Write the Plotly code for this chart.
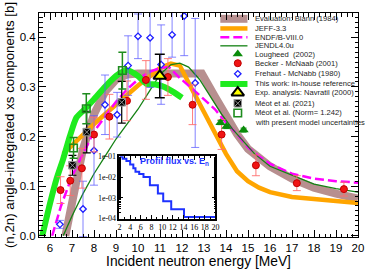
import plotly.graph_objects as go

# ---------------- data ----------------
blann_x = [6.7, 7.0, 7.5, 8.0, 8.5, 9.0, 9.5, 10.0, 11.0, 12.0, 12.9, 13.5, 14.0, 14.5, 15.0, 15.5, 16.0, 17.0, 18.0, 19.0, 20.0]
blann_y = [0.0, 0.07, 0.175, 0.245, 0.29, 0.315, 0.325, 0.327, 0.327, 0.327, 0.327, 0.28, 0.24, 0.205, 0.175, 0.155, 0.14, 0.115, 0.097, 0.085, 0.075]

jeff_x = [6.6, 7.0, 7.5, 8.0, 8.5, 9.0, 9.5, 10.0, 10.5, 11.0, 11.5, 11.9, 12.4, 13.0, 13.5, 14.0, 14.5, 15.0, 15.5, 16.0, 17.0, 18.0, 19.0, 20.0]
jeff_y = [0.165, 0.183, 0.205, 0.225, 0.245, 0.265, 0.285, 0.303, 0.32, 0.338, 0.347, 0.343, 0.30, 0.25, 0.21, 0.165, 0.13, 0.11, 0.097, 0.088, 0.078, 0.073, 0.07, 0.066]

endf_x = [6.1, 6.5, 7.0, 7.5, 8.0, 8.5, 9.0, 9.5, 10.0, 10.5, 11.0, 11.4, 11.9, 12.5, 13.0, 13.5, 14.0, 14.5, 15.0, 15.5, 16.0, 17.0, 18.0, 19.0, 20.0]
endf_y = [0.0, 0.06, 0.12, 0.165, 0.21, 0.24, 0.27, 0.295, 0.315, 0.33, 0.338, 0.34, 0.318, 0.295, 0.275, 0.255, 0.228, 0.205, 0.178, 0.16, 0.145, 0.125, 0.115, 0.11, 0.107]

jendl_x = [6.6, 7.0, 7.5, 8.0, 8.5, 9.0, 9.5, 10.0, 10.5, 11.0, 11.5, 11.9, 12.3, 12.8, 13.3, 13.8, 14.3, 14.8, 15.3, 16.0, 17.0, 18.0, 19.0, 20.0]
jendl_y = [0.0, 0.04, 0.085, 0.125, 0.16, 0.195, 0.225, 0.255, 0.29, 0.325, 0.345, 0.348, 0.34, 0.315, 0.28, 0.245, 0.215, 0.19, 0.165, 0.14, 0.122, 0.104, 0.095, 0.088]

work_x = [5.65, 6.0, 6.3, 6.6, 6.9, 7.2, 7.6, 8.0, 8.5, 9.0, 9.5, 10.0, 10.4, 10.8, 11.2, 11.6, 12.0]
work_y = [0.0, 0.065, 0.115, 0.155, 0.2, 0.238, 0.256, 0.275, 0.3, 0.322, 0.334, 0.322, 0.306, 0.305, 0.3, 0.29, 0.278]

lough_x = [13.75, 14.02, 14.8]
lough_y = [0.228, 0.22, 0.213]
lough_e = [0.004, 0.004, 0.004]

becker_x = [6.48, 6.92, 7.45, 8.0, 8.7, 9.5, 10.36, 11.36, 12.48, 13.8, 15.36, 17.22, 19.36]
becker_y = [0.092, 0.111, 0.136, 0.204, 0.24, 0.272, 0.314, 0.32, 0.264, 0.204, 0.142, 0.106, 0.094]
becker_e = [0.027, 0.03, 0.04, 0.035, 0.045, 0.04, 0.039, 0.037, 0.04, 0.03, 0.021, 0.015, 0.014]

freh_x = [6.45, 7.5, 8.0, 8.5, 9.05, 9.55, 10.0, 10.55, 11.05, 11.55, 12.1, 12.6]
freh_y = [0.023, 0.054, 0.172, 0.264, 0.244, 0.343, 0.402, 0.399, 0.345, 0.405, 0.443, 0.308]
freh_e = [0.008, 0.056, 0.07, 0.06, 0.045, 0.06, 0.045, 0.1, 0.08, 0.045, 0.08, 0.13]

nav_x = [10.99]
nav_y = [0.322]
nav_e = [0.044]

meot_x = [7.02, 7.67, 9.26]
meot_y = [0.142, 0.209, 0.269]
meot_e = [0.02, 0.042, 0.042]

meotn_x = [7.07, 7.65, 9.29]
meotn_y = [0.177, 0.256, 0.333]
meotn_e = [0.021, 0.03, 0.037]

flux_e = [2.0, 2.6, 3.3, 4.0, 4.6, 5.0, 5.7, 6.5, 7.7, 9.2, 10.2, 11.7, 14.1, 20.0]
flux_v = [0.093, 0.076, 0.058, 0.040, 0.026, 0.018, 0.0138, 0.0100, 0.0040, 0.0016, 0.00068, 0.00028, 0.00012, 0.00012]

legend_labels = ["Evaluation: Blann (1984)", "JEFF-3.3", "ENDF/B-VIII.0", "JENDL4.0u",
                 "Lougheed  (2002)", "Becker - McNaab (2001)", "Frehaut - McNabb (1980)",
                 "This work: in-house reference", "Exp. analysis: Navratil (2000)",
                 "Méot et al. (2021)", "Méot et al. (Norm= 1.242)", "with present model uncertainties"]

# ---------------- styles ----------------
C_BLANN = "rgb(183,143,143)"
C_JEFF = "rgb(255,165,0)"
C_ENDF = "rgb(255,0,255)"
C_JENDL = "rgb(20,130,20)"
C_WORK = "rgb(30,235,30)"
C_LOUGH = "rgb(10,140,10)"
C_RED = "rgb(240,20,20)"
C_BLUE = "rgb(30,30,255)"

FONT = "Liberation Sans, Arial, sans-serif"

fig = go.Figure()

fig.add_trace(go.Scatter(x=blann_x, y=blann_y, mode="lines", line=dict(color=C_BLANN, width=8)))
fig.add_trace(go.Scatter(x=jeff_x, y=jeff_y, mode="lines", line=dict(color=C_JEFF, width=4.5)))
fig.add_trace(go.Scatter(x=endf_x, y=endf_y, mode="lines", line=dict(color=C_ENDF, width=2.5, dash="9px,4px")))
fig.add_trace(go.Scatter(x=jendl_x, y=jendl_y, mode="lines", line=dict(color=C_JENDL, width=1.3)))
fig.add_trace(go.Scatter(x=work_x, y=work_y, mode="lines", line=dict(color=C_WORK, width=6, shape="spline", smoothing=0.6)))

fig.add_trace(go.Scatter(x=freh_x, y=freh_y, mode="markers",
                         marker=dict(symbol="diamond", size=5, color="white", line=dict(color=C_BLUE, width=1.3)),
                         error_y=dict(type="data", array=freh_e, color="rgba(90,90,255,0.75)", thickness=1, width=4)))
fig.add_trace(go.Scatter(x=becker_x, y=becker_y, mode="markers",
                         marker=dict(symbol="circle", size=7, color=C_RED, line=dict(color="rgb(190,0,0)", width=1)),
                         error_y=dict(type="data", array=becker_e, color="rgba(255,110,110,0.9)", thickness=1, width=4)))
fig.add_trace(go.Scatter(x=lough_x, y=lough_y, mode="markers",
                         marker=dict(symbol="triangle-up", size=9, color=C_LOUGH),
                         error_y=dict(type="data", array=lough_e, color=C_LOUGH, thickness=1, width=3)))
fig.add_trace(go.Scatter(x=meot_x, y=meot_y, mode="markers",
                         marker=dict(symbol="square-x", size=7.5, color="black", line=dict(color="rgb(150,150,150)", width=1)),
                         error_y=dict(type="data", array=meot_e, color="black", thickness=1.2, width=4)))
fig.add_trace(go.Scatter(x=meotn_x, y=meotn_y, mode="markers",
                         marker=dict(symbol="square-open", size=7.5, color="rgb(30,140,30)", line=dict(width=1.6)),
                         error_y=dict(type="data", array=meotn_e, color="rgb(30,140,30)", thickness=1.5, width=4)))
fig.add_trace(go.Scatter(x=nav_x, y=nav_y, mode="markers",
                         marker=dict(symbol="triangle-up", size=11, color="yellow", line=dict(color="black", width=2)),
                         error_y=dict(type="data", array=nav_e, color="black", thickness=1.5, width=5)))

# ---------------- inset ----------------
fig.add_trace(go.Scatter(x=flux_e, y=flux_v, mode="lines", line=dict(color="rgb(30,50,255)", width=2, shape="hv"),
                         xaxis="x2", yaxis="y2"))

# ---------------- manual legend (pixel overlay axes) ----------------
row_y = [19, 29, 38, 47, 55.5, 65, 76, 86.5, 95.5, 106.5, 116.5, 126.5]
lx0, lx1, mx, tx = 222, 250, 240, 256
line_styles = [dict(color=C_BLANN, width=8), dict(color=C_JEFF, width=4.5),
               dict(color=C_ENDF, width=2.5, dash="9px,4px"), dict(color=C_JENDL, width=1.3)]
for i, ls in enumerate(line_styles):
    fig.add_trace(go.Scatter(x=[lx0, lx1], y=[row_y[i], row_y[i]], mode="lines", line=ls,
                             xaxis="x3", yaxis="y3", cliponaxis=False))
fig.add_trace(go.Scatter(x=[lx0, lx1], y=[row_y[7], row_y[7]], mode="lines", line=dict(color=C_WORK, width=6),
                         xaxis="x3", yaxis="y3", cliponaxis=False))
leg_markers = [
    (4, dict(symbol="triangle-up", size=9, color=C_LOUGH)),
    (5, dict(symbol="circle", size=7, color=C_RED, line=dict(color="rgb(190,0,0)", width=1))),
    (6, dict(symbol="diamond", size=5, color="white", line=dict(color=C_BLUE, width=1.3))),
    (8, dict(symbol="triangle-up", size=11, color="yellow", line=dict(color="black", width=2))),
    (9, dict(symbol="square-x", size=7.5, color="black", line=dict(color="rgb(150,150,150)", width=1))),
    (10, dict(symbol="square-open", size=7.5, color="rgb(30,140,30)", line=dict(width=1.6))),
]
for i, mk in leg_markers:
    fig.add_trace(go.Scatter(x=[mx], y=[row_y[i]], mode="markers", marker=mk,
                             xaxis="x3", yaxis="y3", cliponaxis=False))

annotations = []
for i, lab in enumerate(legend_labels):
    annotations.append(dict(x=tx, y=row_y[i], xref="x3", yref="y3", text=lab, showarrow=False,
                            xanchor="left", yanchor="middle", font=dict(family=FONT, size=7.6, color="rgb(30,30,30)")))
annotations.append(dict(x=0.425, y=0.335, xref="paper", yref="paper", text="<b>Profil flux vs. E<sub>n</sub></b>",
                        showarrow=False, xanchor="center", yanchor="middle",
                        font=dict(family=FONT, size=9, color="rgb(30,50,255)")))

axis_common = dict(showline=True, linecolor="black", linewidth=1, mirror="allticks", ticks="inside",
                   tickcolor="black", showgrid=False, zeroline=False)

fig.update_layout(
    width=372, height=273,
    margin=dict(l=35, r=8, t=13, b=28),
    paper_bgcolor="white", plot_bgcolor="white",
    showlegend=False,
    font=dict(family=FONT, color="black"),
    xaxis=dict(range=[5.5, 20], dtick=1, tick0=6, ticklen=7, tickwidth=1,
               tickfont=dict(size=11.5),
               minor=dict(dtick=0.25, tick0=6, ticklen=3.5, ticks="inside", tickcolor="black"),
               title=dict(text="Incident neutron energy [MeV]", font=dict(size=13.8), standoff=2),
               **axis_common),
    yaxis=dict(range=[-0.0025, 0.449], dtick=0.1, tick0=0, tickformat=".1f", ticklen=7,
               tickfont=dict(size=11.5),
               minor=dict(dtick=0.01, tick0=0, ticklen=3.5, ticks="inside", tickcolor="black"),
               title=dict(text="(n,2n) angle-integrated xs components [b]", font=dict(size=13.3), standoff=2),
               **axis_common),
    xaxis2=dict(domain=[0.2523, 0.5532], anchor="y2", range=[2, 20], tickvals=[2, 4, 6, 8, 10, 12, 14, 16, 18, 20],
                ticklen=4, tickfont=dict(family="Liberation Serif, Times New Roman, serif", size=8),
                minor=dict(dtick=1, ticklen=2, ticks="inside", tickcolor="black"),
                **{**axis_common, "linewidth": 1.5}),
    yaxis2=dict(domain=[0.0819, 0.3608], anchor="x2", type="log", range=[-4, -1],
                tickvals=[1e-4, 1e-3, 1e-2, 1e-1], ticktext=["1e-04", "1e-03", "1e-02", "1e-01"],
                ticklen=4, tickfont=dict(family="Liberation Serif, Times New Roman, serif", size=8),
                minor=dict(ticklen=2, ticks="inside", tickcolor="black", showgrid=False),
                **{**axis_common, "linewidth": 1.5}),
    xaxis3=dict(overlaying="x", range=[35, 364], visible=False, anchor="y3"),
    yaxis3=dict(overlaying="y", range=[245, 13], visible=False, anchor="x3"),
    annotations=annotations,
)

fig.write_html("out.html", config={"displayModeBar": False},
               post_script="document.body.style.margin='0px';")
